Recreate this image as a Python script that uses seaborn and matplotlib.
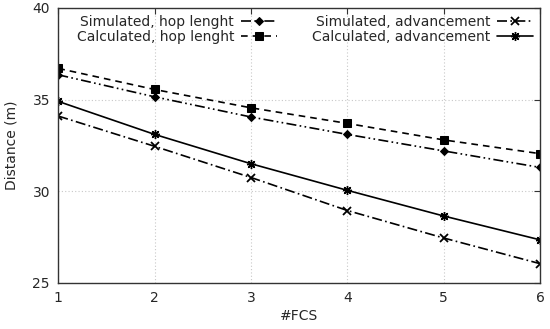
import numpy as np
import pandas as pd
import matplotlib
matplotlib.use("Agg")
import matplotlib.pyplot as plt
import seaborn as sns

fcs = [1, 2, 3, 4, 5, 6]
sim_hop = [36.35, 35.15, 34.05, 33.1, 32.2, 31.3]
calc_hop = [36.7, 35.55, 34.55, 33.7, 32.8, 32.05]
sim_adv = [34.1, 32.45, 30.75, 28.95, 27.45, 26.05]
calc_adv = [34.9, 33.1, 31.5, 30.05, 28.65, 27.35]

labels = ["Simulated, hop lenght", "Calculated, hop lenght",
          "Simulated, advancement", "Calculated, advancement"]

df = pd.DataFrame({"#FCS": fcs * 4,
                   "Distance (m)": sim_hop + calc_hop + sim_adv + calc_adv,
                   "series": np.repeat(labels, len(fcs))})

sns.set_style("white")
plt.rcParams['font.family'] = ['DejaVu Sans']
plt.rcParams['font.size'] = 10

fig, ax = plt.subplots(figsize=(5.5, 3.29), dpi=100)
fig.subplots_adjust(left=0.106, right=0.982, top=0.976, bottom=0.14)

# gnuplot-ish line styles
styles = {
    labels[0]: dict(linestyle=(0, (6, 2, 1, 2, 1, 2)), marker='D', markersize=4.5),
    labels[1]: dict(linestyle=(0, (4, 3)), marker='s', markersize=5.5),
    labels[2]: dict(linestyle=(0, (6, 2, 1, 2)), marker='x', markersize=5.5, markeredgewidth=1.3),
    labels[3]: dict(linestyle='-', marker=(8, 2, 0), markersize=6.5, markeredgewidth=1.0),
}

for lab in labels:
    sub = df[df["series"] == lab]
    sns.lineplot(data=sub, x="#FCS", y="Distance (m)", ax=ax, color='black',
                 linewidth=1.2, label=lab, markeredgecolor='black', **styles[lab])

ax.set_xlim(1, 6)
ax.set_ylim(25, 40)
ax.set_xticks(fcs)
ax.set_yticks([25, 30, 35, 40])
ax.grid(True, linestyle=(0, (1, 2)), color='#c8c8c8', linewidth=0.8)
for s in ax.spines.values():
    s.set_color('#333333')
    s.set_linewidth(1.0)
ax.tick_params(direction='in', top=True, right=True, length=4, color='#333333',
               labelsize=10, pad=6)
ax.set_xlabel("#FCS", fontsize=10, labelpad=3)
ax.set_ylabel("Distance (m)", fontsize=10, labelpad=10)

leg = ax.legend(ncol=2, loc='upper right', frameon=False, markerfirst=False,
                handlelength=2.6, columnspacing=2.5, labelspacing=0.1,
                borderaxespad=0.1, fontsize=10, handletextpad=0.5)

fig.savefig("out.png", dpi=100)
